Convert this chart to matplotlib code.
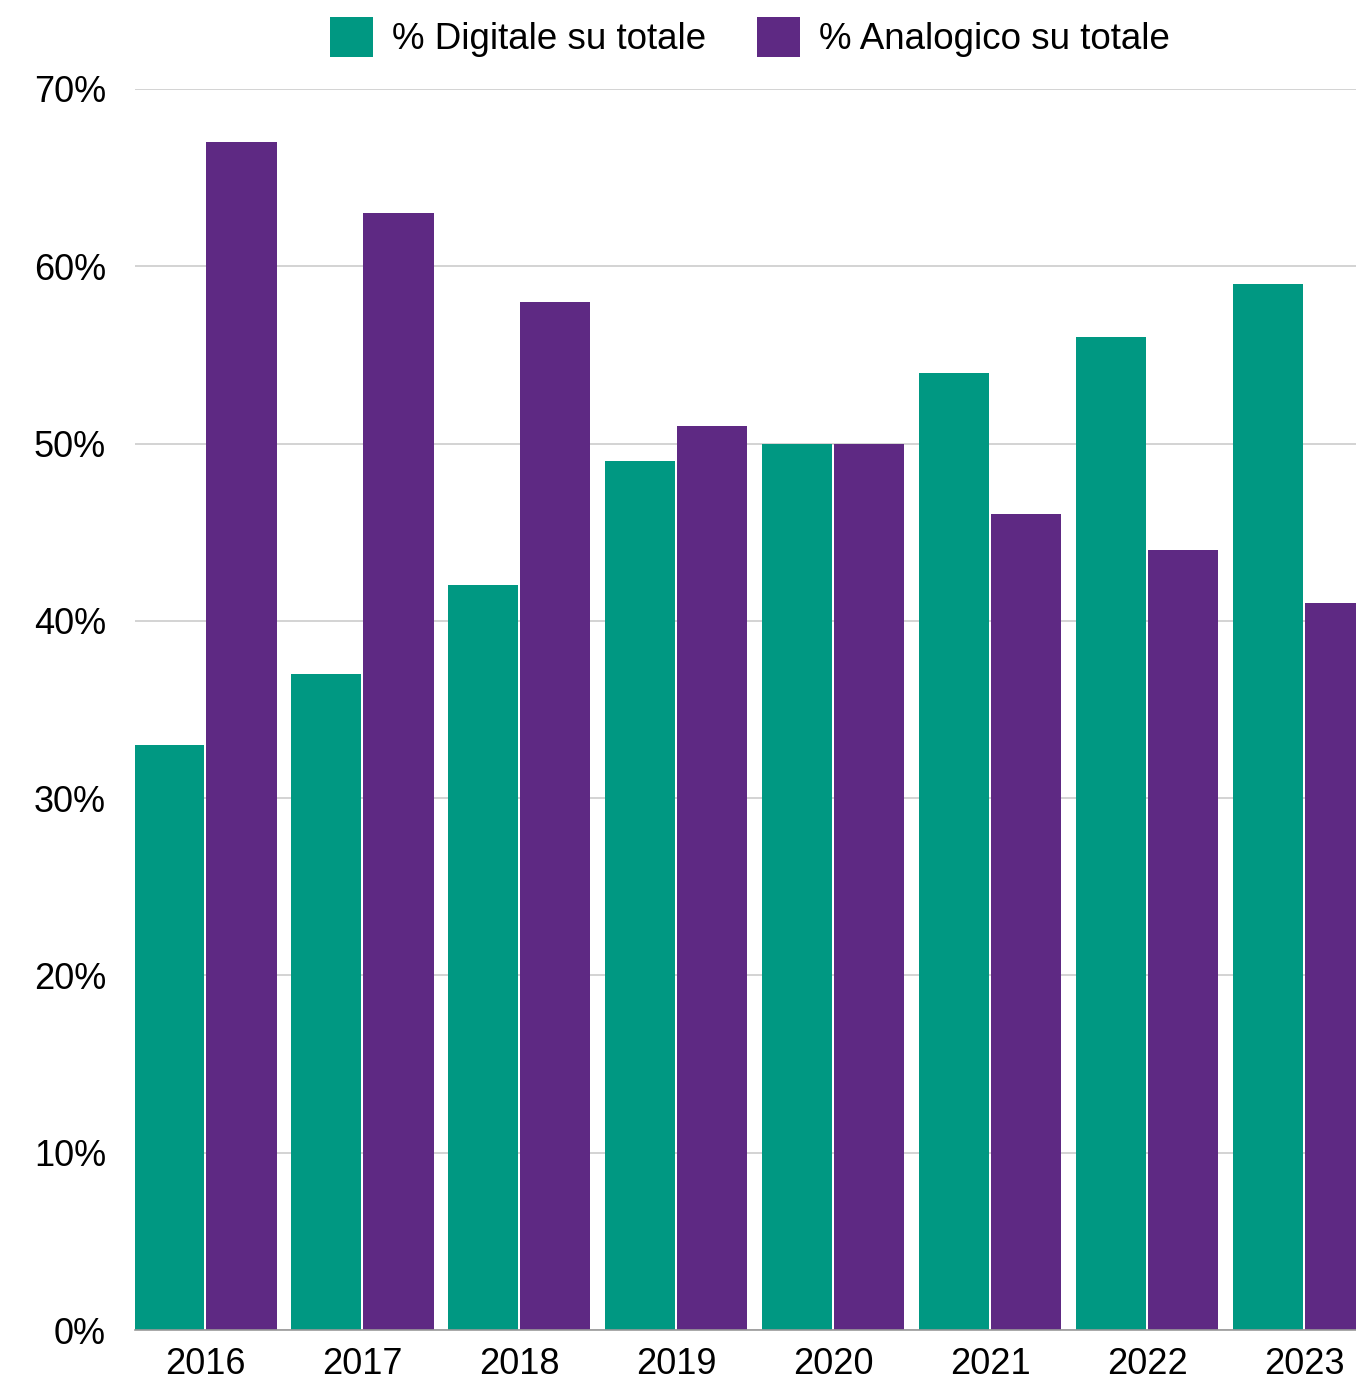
import numpy as np
import matplotlib
matplotlib.use("Agg")
import matplotlib.pyplot as plt
from matplotlib.ticker import FuncFormatter

plt.rcParams['font.family'] = ['Liberation Sans', 'DejaVu Sans']

years = ["2016", "2017", "2018", "2019", "2020", "2021", "2022", "2023"]
digitale = [33, 37, 42, 49, 50, 54, 56, 59]
analogico = [67, 63, 58, 51, 50, 46, 44, 41]

teal = "#009882"
purple = "#5e2983"

fig = plt.figure(figsize=(13.56, 13.79), dpi=100)
ax = fig.add_axes([0.0996, 0.0355, 0.9004, 0.900])

x = np.arange(len(years))
width = 0.446
offset = 0.232
ax.bar(x - offset, digitale, width, color=teal, label="% Digitale su totale", zorder=3)
ax.bar(x + offset, analogico, width, color=purple, label="% Analogico su totale", zorder=3)

ax.set_xlim(-0.446, 7.331)
ax.set_ylim(0, 70)
ax.set_yticks(np.arange(0, 71, 10))
ax.yaxis.set_major_formatter(FuncFormatter(lambda v, _: f"{int(v)}%"))
ax.set_xticks(x)
ax.set_xticklabels(years)

ax.grid(axis="y", color="#cccccc", linewidth=1.2, zorder=0)
for s in ["top", "right", "left"]:
    ax.spines[s].set_visible(False)
ax.spines["bottom"].set_color("#999999")
ax.spines["bottom"].set_linewidth(1.2)
ax.spines["bottom"].set_zorder(4)
ax.tick_params(axis="both", length=0, labelsize=26, colors="black")
ax.tick_params(axis="y", pad=21)
ax.tick_params(axis="x", pad=12)

fig.legend(loc="center", bbox_to_anchor=(0.553, 1 - 37 / 1379), ncol=2, frameon=False,
           fontsize=26.5, handlelength=1.17, handleheight=1.3, columnspacing=1.4,
           handletextpad=0.5, borderpad=0)

fig.savefig("out.png", dpi=100)
